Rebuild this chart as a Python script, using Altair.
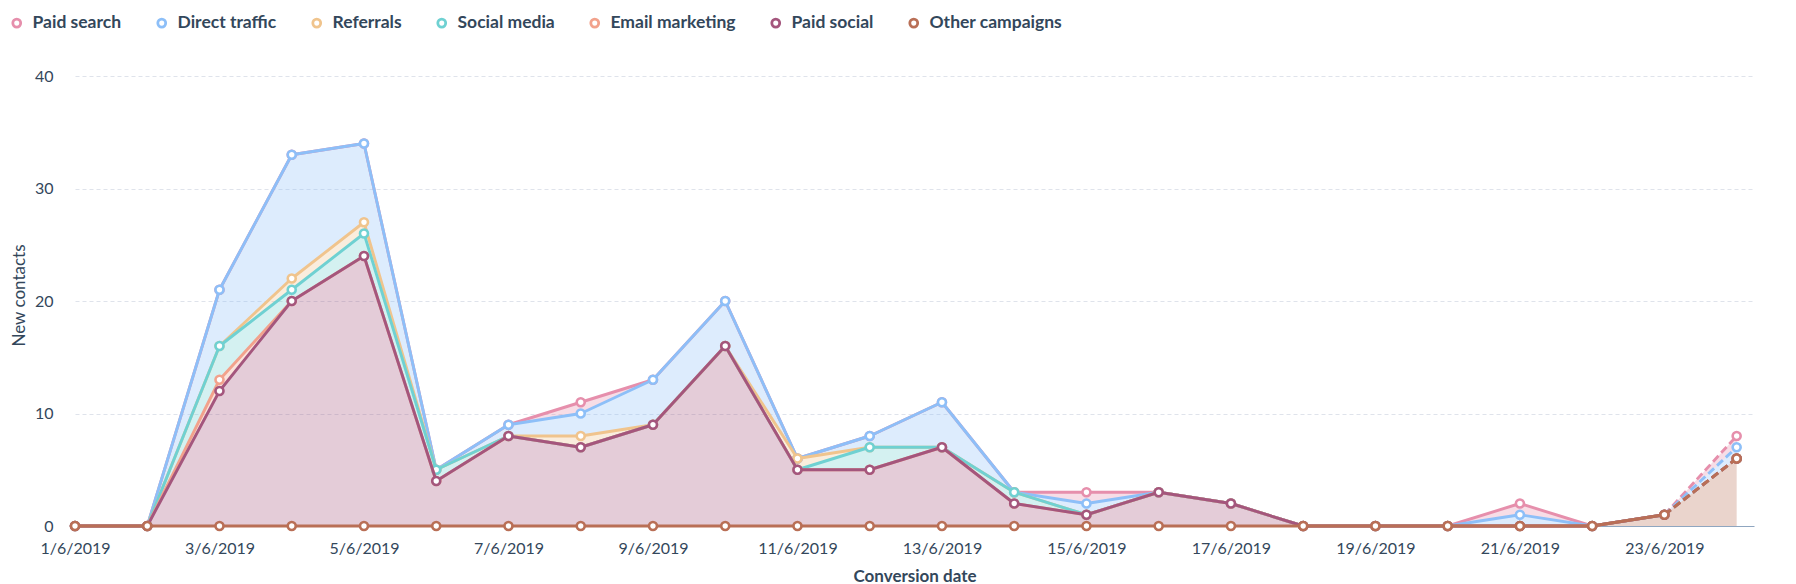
import altair as alt
import pandas as pd

dates = ["1/6/2019", "2/6/2019", "3/6/2019", "4/6/2019", "5/6/2019", "6/6/2019",
         "7/6/2019", "8/6/2019", "9/6/2019", "10/6/2019", "11/6/2019", "12/6/2019",
         "13/6/2019", "14/6/2019", "15/6/2019", "16/6/2019", "17/6/2019", "18/6/2019",
         "19/6/2019", "20/6/2019", "21/6/2019", "22/6/2019", "23/6/2019", "24/6/2019"]

series = ["Paid search", "Direct traffic", "Referrals", "Social media",
          "Email marketing", "Paid social", "Other campaigns"]
colors = ["#e68fac", "#8dbff8", "#f0c48d", "#6fd1d2", "#f2a28c", "#a4567d", "#b96f56"]

paid_search     = [0, 0, 0, 0, 0, 0, 0, 1, 0, 0, 0, 0, 0, 0, 1, 0, 0, 0, 0, 0, 1, 0, 0, 1]
direct_traffic  = [0, 0, 5, 11, 7, 0, 1, 2, 4, 4, 0, 1, 4, 0, 1, 0, 0, 0, 0, 0, 1, 0, 0, 1]
referrals       = [0, 0, 0, 1, 1, 0, 0, 1, 0, 0, 1, 0, 0, 0, 0, 0, 0, 0, 0, 0, 0, 0, 0, 0]
social_media    = [0, 0, 3, 1, 2, 1, 0, 0, 0, 0, 0, 2, 0, 1, 0, 0, 0, 0, 0, 0, 0, 0, 0, 0]
email_marketing = [0, 0, 1, 0, 0, 0, 0, 0, 0, 0, 0, 0, 0, 0, 0, 0, 0, 0, 0, 0, 0, 0, 0, 0]
paid_social     = [0, 0, 12, 20, 24, 4, 8, 7, 9, 16, 5, 5, 7, 2, 1, 3, 2, 0, 0, 0, 0, 0, 0, 0]
other_campaigns = [0, 0, 0, 0, 0, 0, 0, 0, 0, 0, 0, 0, 0, 0, 0, 0, 0, 0, 0, 0, 0, 0, 1, 6]

y_ticks = [0, 10, 20, 30, 40]

values = [paid_search, direct_traffic, referrals, social_media,
          email_marketing, paid_social, other_campaigns]

days = [int(d.split("/")[0]) for d in dates]
rows = []
for i, (name, vals) in enumerate(zip(series, values)):
    for d, v in zip(days, vals):
        rows.append({"series": name, "day": d, "value": v, "rank": len(series) - 1 - i})
df = pd.DataFrame(rows)

partial_start = days[-2]
label_days = days[::2]

FONT = "Lato"
TEXT = "#33475b"

x_scale = alt.Scale(domain=[days[0], days[-1] + 0.24], nice=False, zero=False)
y_scale = alt.Scale(domain=[y_ticks[0], y_ticks[-1]], nice=False)
color_scale = alt.Scale(domain=series, range=colors)

x_enc = alt.X(
    "day:Q", scale=x_scale,
    axis=alt.Axis(values=label_days, labelExpr="datum.value + '/6/2019'",
                  grid=False, ticks=False, domain=True, labelFlush=False,
                  labelPadding=14, title="Conversion date", titleY=50,
                  titleBaseline="middle"))
y_enc = alt.Y("y1:Q", scale=y_scale, stack=None,
              axis=alt.Axis(values=y_ticks, grid=True, domain=False, ticks=False,
                            labelPadding=22, title="New contacts", titleX=-56,
                            titleY=219, titleAngle=270, titleAlign="center",
                            titleBaseline="middle"))

legend = alt.Legend(orient="none", legendX=-67, legendY=-62, direction="horizontal",
                    title=None, columns=len(series))

base = alt.Chart(df).transform_stack(
    stack="value", groupby=["day"], as_=["y0", "y1"],
    sort=[alt.SortField("rank", order="ascending")])

areas = []
tops = []
for name, col in zip(series, colors):
    sel = base.transform_filter(alt.datum.series == name)
    areas.append(
        sel.mark_area(color=col, fillOpacity=0.3, interpolate="linear").encode(
            x=x_enc, y=y_enc, y2="y0:Q"))
    tops.append(
        sel.transform_filter(alt.datum.day <= partial_start)
        .mark_line(color=col, strokeWidth=2.9, strokeJoin="round").encode(
            x=x_enc, y=y_enc))
    tops.append(
        sel.transform_filter(alt.datum.day >= partial_start)
        .mark_line(color=col, strokeWidth=2.9, strokeDash=[8, 4]).encode(
            x=x_enc, y=y_enc))
    tops.append(
        sel.mark_point(shape="circle", size=64, fill="white", fillOpacity=1,
                       strokeWidth=2.6, opacity=1).encode(
            x=x_enc, y=y_enc,
            stroke=alt.Stroke("series:N", scale=color_scale, legend=legend)))

chart = alt.layer(*areas, *tops).properties(
    width=1679, height=450,
    autosize=alt.AutoSizeParams(type="none"),
    padding={"left": 67, "top": 68, "right": 34, "bottom": 58},
).configure_view(
    stroke=None
).configure_axis(
    labelFont=FONT, labelFontSize=16, labelColor=TEXT,
    titleFont=FONT, titleFontSize=17, titleColor=TEXT,
    gridColor="#dfe3eb", gridDash=[4, 3], gridWidth=1,
    domainColor="#8fa6c0", domainWidth=1.2,
).configure_axisX(
    titleFontWeight="bold"
).configure_axisY(
    titleFontWeight="normal"
).configure_legend(
    symbolType="circle", symbolSize=62, symbolStrokeWidth=2.8,
    symbolFillColor="white", labelFont=FONT, labelFontSize=17.5,
    labelFontWeight="bold", labelColor=TEXT, labelOffset=7,
    columnPadding=30, padding=0
)

chart.save("out.html", embed_options={"renderer": "svg", "actions": False})
